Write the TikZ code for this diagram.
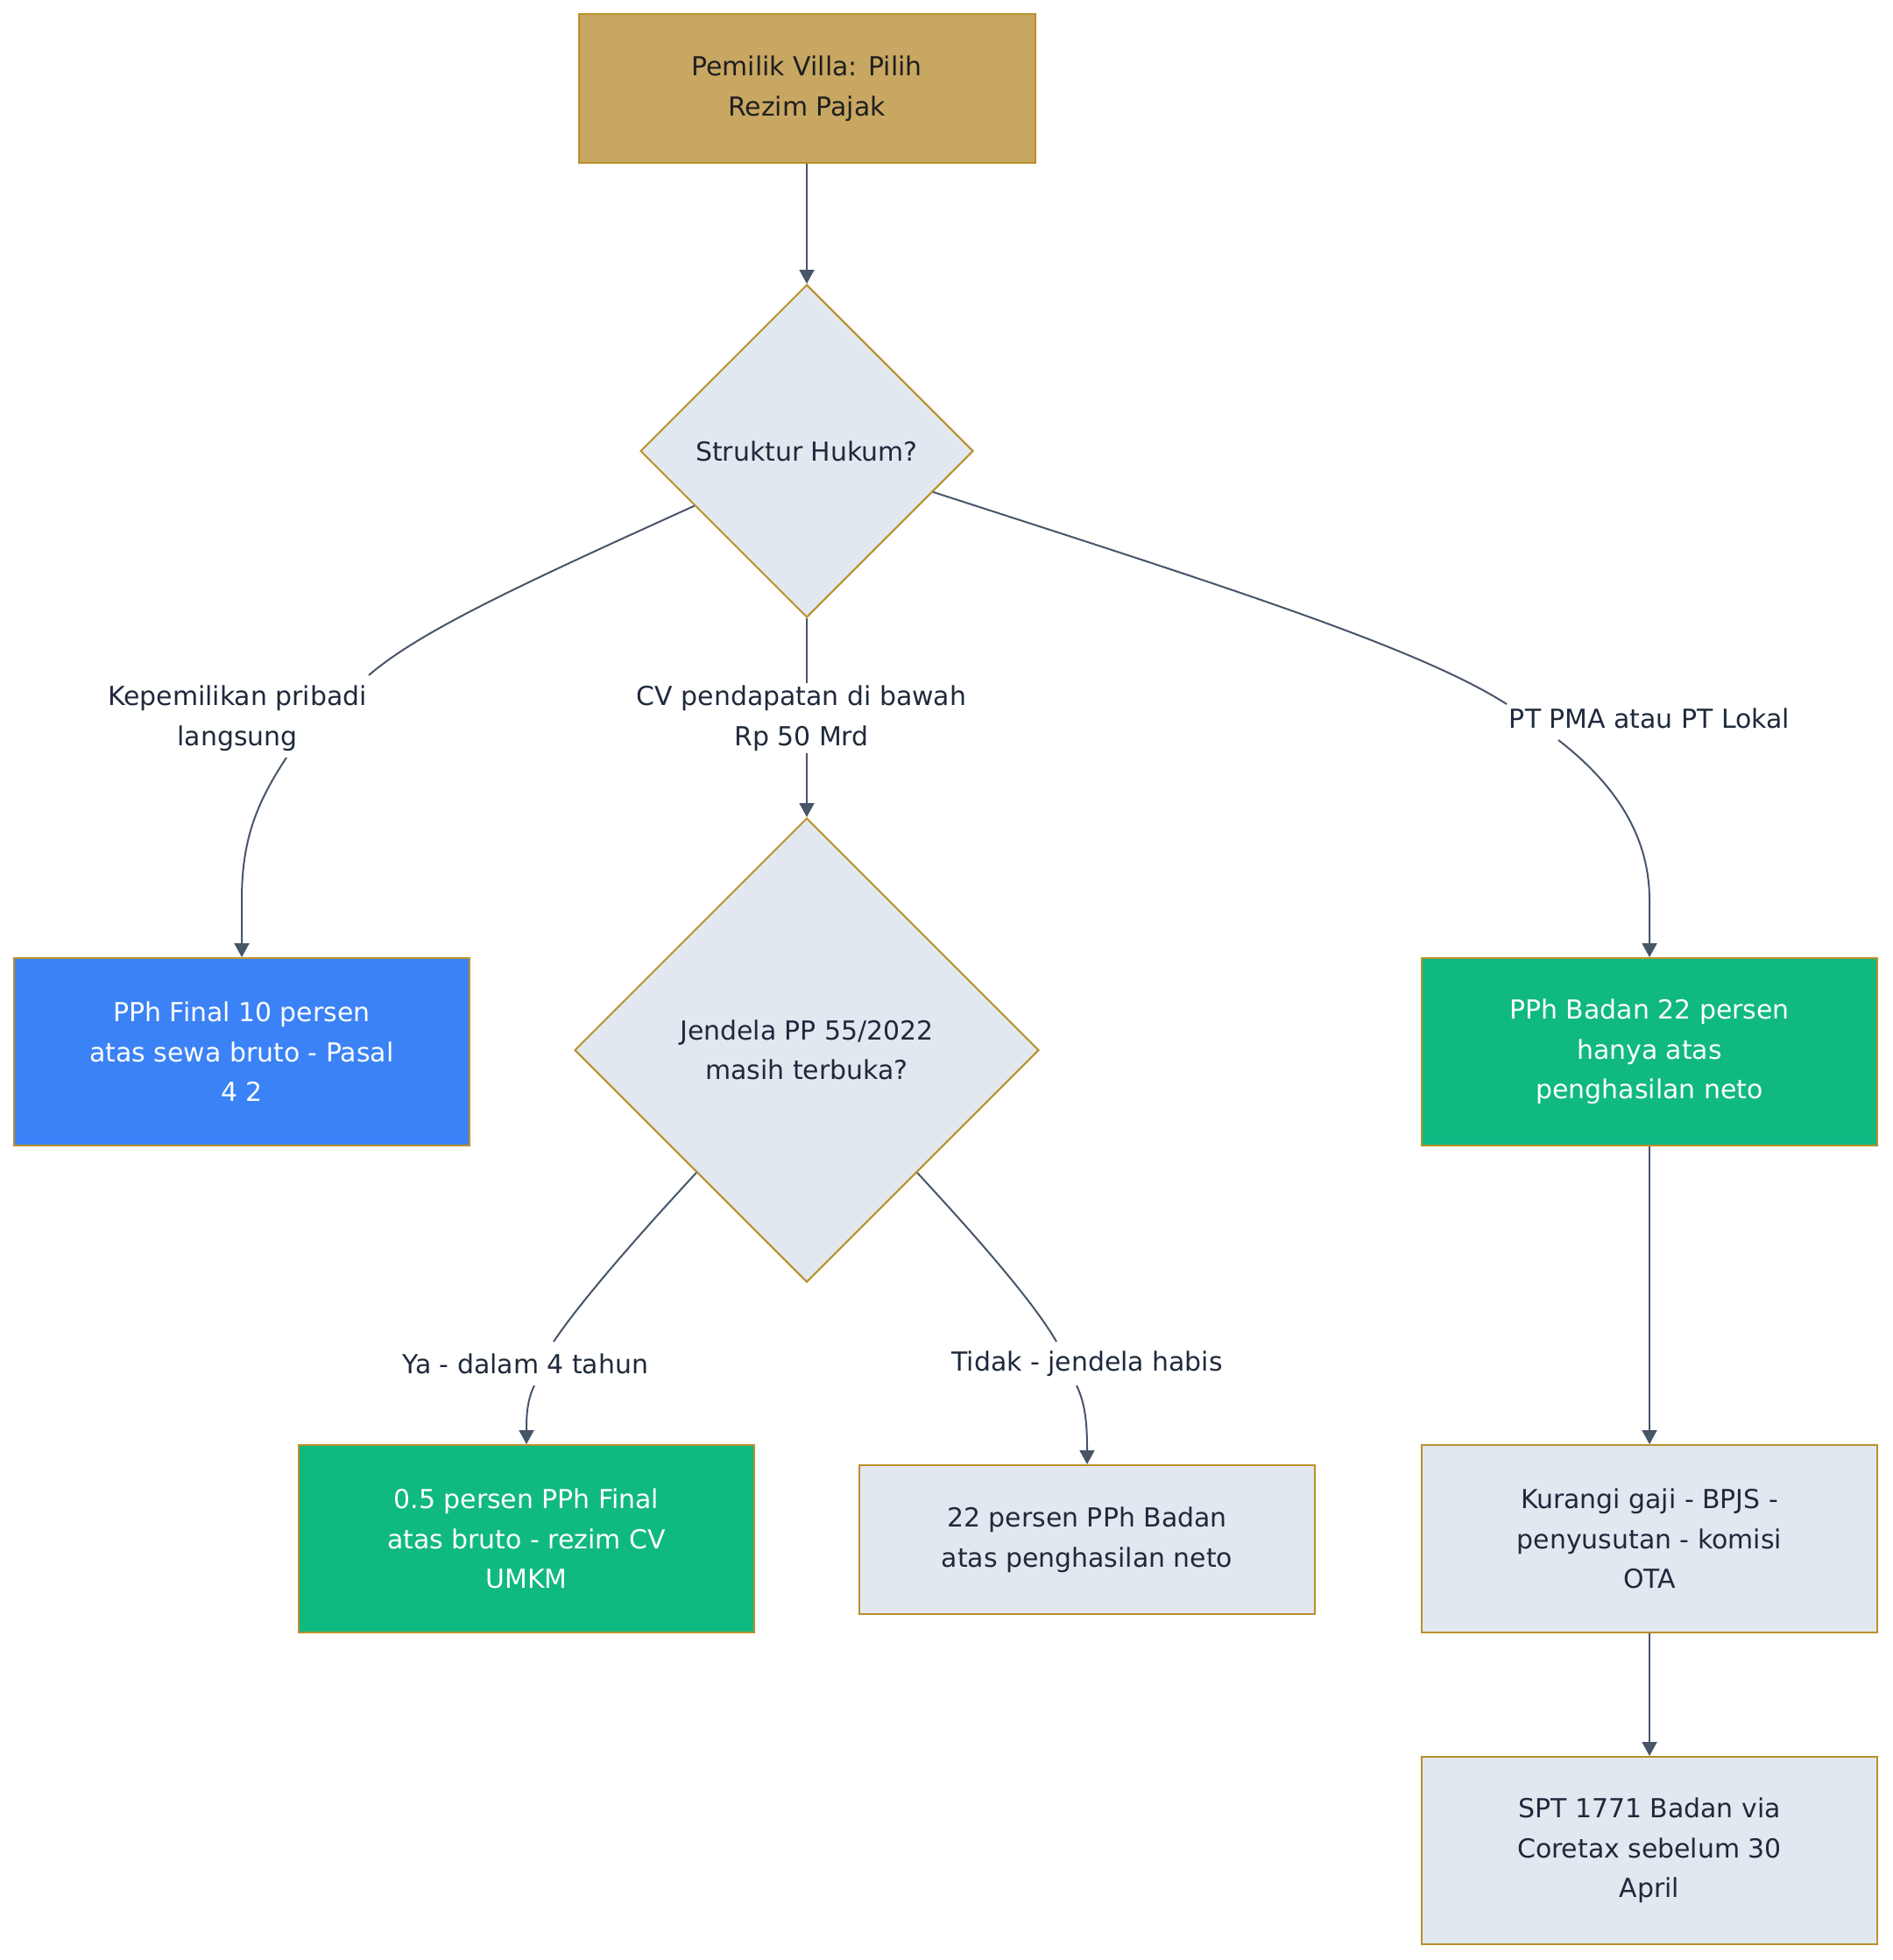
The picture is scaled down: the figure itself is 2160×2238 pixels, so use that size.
\documentclass[tikz,border=0pt]{standalone}
\usepackage{fontspec}
\setmainfont{DejaVu Sans}
\usetikzlibrary{shapes.geometric,arrows.meta}
\definecolor{goldfill}{HTML}{C8A762}
\definecolor{goldline}{HTML}{B8912B}
\definecolor{slatefill}{HTML}{E2E8F0}
\definecolor{slatetext}{HTML}{1E293B}
\definecolor{bluefill}{HTML}{3B82F6}
\definecolor{greenfill}{HTML}{10B981}
\definecolor{edgecol}{HTML}{475569}
\tikzset{
  base/.style={draw=goldline, line width=1pt, align=center, inner sep=0pt,
    font=\fontsize{14.95}{22.8}\selectfont},
  boxnode/.style={base, rectangle, minimum width=260pt, minimum height=107pt},
  decision/.style={base, diamond, fill=slatefill, text=slatetext, aspect=1},
  lbl/.style={align=center, inner sep=1pt, text=slatetext, font=\fontsize{14.95}{22.8}\selectfont},
  conn/.style={draw=edgecol, line width=1pt},
  arr/.style={conn, -{Triangle[length=8pt,width=8.5pt]}}
}
\begin{document}
\begin{tikzpicture}[x=0.5pt,y=-0.5pt]
\useasboundingbox (0,0) rectangle (2160,2238);
% nodes
\node[base, rectangle, fill=goldfill, text={black!88}, minimum width=260.5pt, minimum height=85pt] (top) at (921,101) {Pemilik Villa: Pilih\\Rezim Pajak};
\node[decision, minimum width=190pt, minimum height=190pt] (d1) at (921,515) {Struktur Hukum?};
\node[decision, minimum width=265pt, minimum height=265pt] (d2) at (921,1199) {Jendela PP 55/2022\\masih terbuka?};
\node[boxnode, fill=bluefill, text=white] (final) at (276,1201) {PPh Final 10 persen\\atas sewa bruto - Pasal\\4 2};
\node[boxnode, fill=greenfill, text=white] (badan) at (1883,1201) {PPh Badan 22 persen\\hanya atas\\penghasilan neto};
\node[boxnode, fill=greenfill, text=white] (umkm) at (601,1757) {0.5 persen PPh Final\\atas bruto - rezim CV\\UMKM};
\node[boxnode, fill=slatefill, text=slatetext, minimum height=85pt] (neto) at (1241,1758) {22 persen PPh Badan\\atas penghasilan neto};
\node[boxnode, fill=slatefill, text=slatetext] (kurangi) at (1883,1757) {Kurangi gaji - BPJS -\\penyusutan - komisi\\OTA};
\node[boxnode, fill=slatefill, text=slatetext] (spt) at (1883,2113) {SPT 1771 Badan via\\Coretax sebelum 30\\April};
% labels
\node[lbl] (l1) at (271,820) {Kepemilikan pribadi\\langsung};
\node[lbl] (l2) at (915,820) {CV pendapatan di bawah\\Rp 50 Mrd};
\node[lbl] (l3) at (1883,820) {PT PMA atau PT Lokal};
\node[lbl] (l4) at (600,1557) {Ya - dalam 4 tahun};
\node[lbl] (l5) at (1241,1557) {Tidak - jendela habis};
% label attachment points
\coordinate (l1in) at (421,771);
\coordinate (l1out) at (327,865);
\coordinate (l3in) at (1720,804);
\coordinate (l3out) at (1779,845);
\coordinate (l4in) at (632,1532);
\coordinate (l4out) at (610,1582);
\coordinate (l5in) at (1206,1532);
\coordinate (l5out) at (1229,1582);
% edges
\draw[arr] (top) -- (d1);
\draw[conn] (d1.206) .. controls (600,665) and (480,720) .. (l1in);
\draw[arr] (l1out) .. controls (292,918) and (276,960) .. (276,1028) -- (final.north);
\draw[conn] (d1.south) -- (d1.south |- l2.north);
\draw[arr] (d1.south |- l2.south) -- (d2.north);
\draw[conn] (d1.342) .. controls (1400,670) and (1620,740) .. (l3in);
\draw[arr] (l3out) .. controls (1850,900) and (1883,960) .. (1883,1028) -- (badan.north);
\draw[conn] (d2.228) .. controls (720,1420) and (660,1490) .. (l4in);
\draw[arr] (l4out) .. controls (601,1600) and (601,1620) .. (umkm.north);
\draw[conn] (d2.312) .. controls (1122,1420) and (1182,1490) .. (l5in);
\draw[arr] (l5out) .. controls (1240,1605) and (1241,1630) .. (neto.north);
\draw[arr] (badan) -- (kurangi);
\draw[arr] (kurangi) -- (spt);
\end{tikzpicture}
\end{document}
